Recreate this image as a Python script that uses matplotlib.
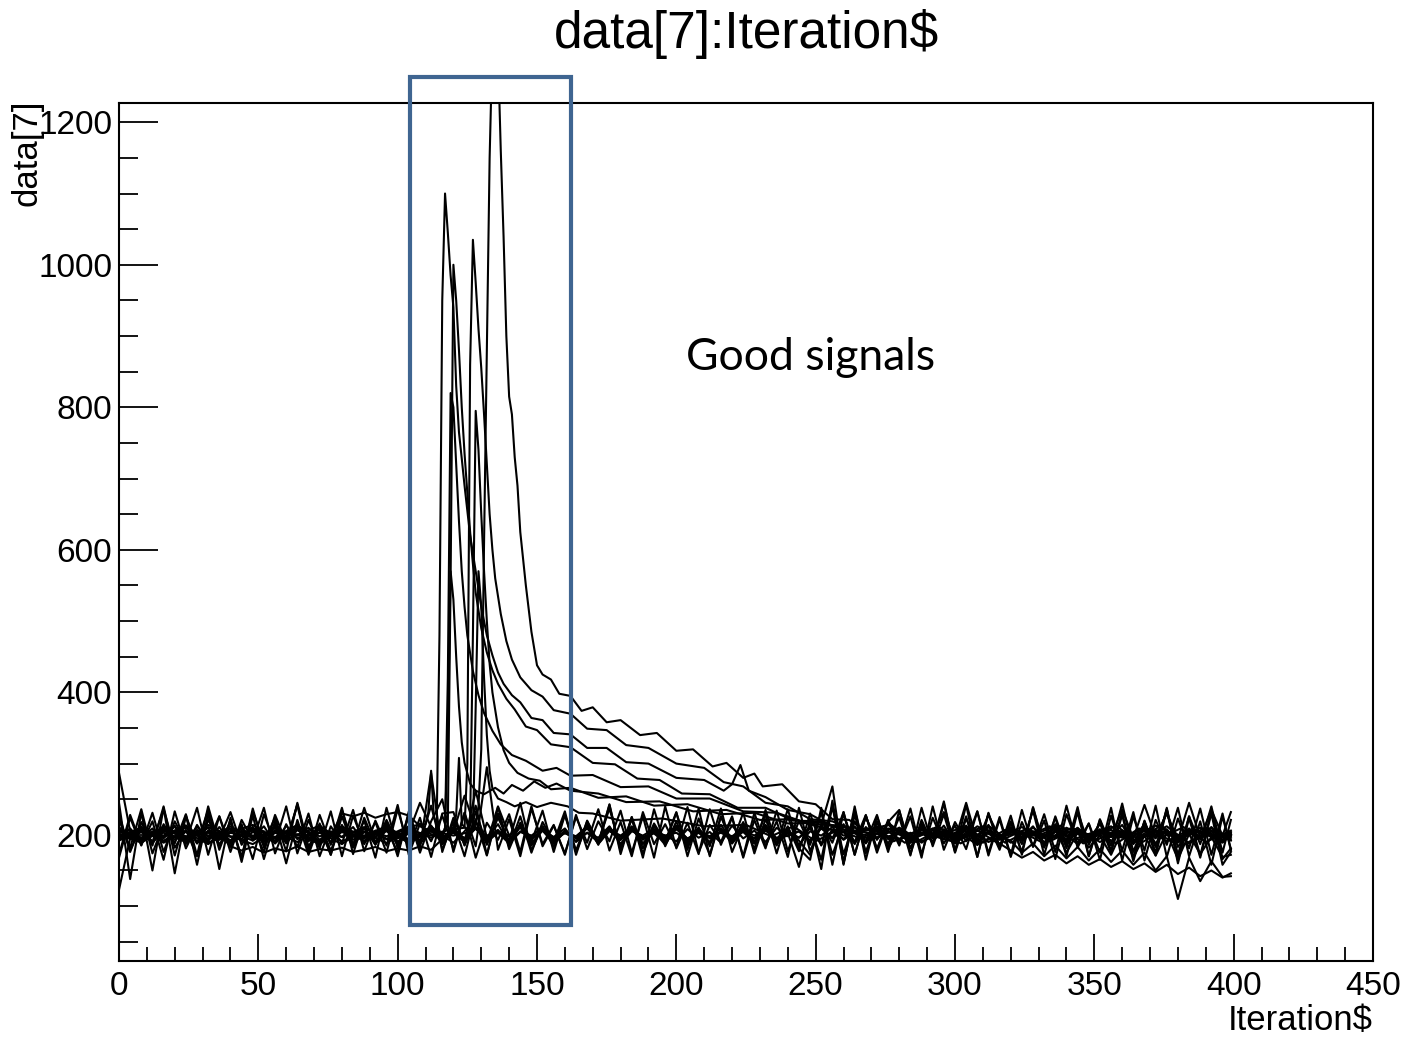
import numpy as np
import matplotlib
matplotlib.use('Agg')
import matplotlib.pyplot as plt
from matplotlib.patches import Rectangle
from matplotlib.ticker import MultipleLocator

plt.rcParams['font.family'] = ['Liberation Sans', 'DejaVu Sans']

# iteration grid for the flat (no signal) waveforms
base_x = list(range(0, 400, 4)) + [399]

base_1 = [225,178,212,190,236,182,207,170,221,195,
          232,186,211,176,228,190,243,181,214,172,
          226,184,238,190,209,175,230,188,241,179,
          218,170,233,186,224,192,245,178,212,183,
          229,176,215,190,237,181,222,174,213,188,
          231,183,210,172,226,189,218,180,235,186,
          212,177,230,185,241,173,219,190,228,176,
          234,181,216,188,247,175,223,186,214,179,
          227,172,239,184,215,190,231,170,222,185,
          244,176,218,183,236,172,226,187,240,175, 221]
base_2 = [172,228,186,219,165,233,181,214,190,226,
          176,221,192,238,174,215,183,230,170,212,
          188,235,177,220,185,242,172,216,191,227,
          180,231,168,217,193,229,176,240,184,213,
          174,225,189,236,178,218,170,232,187,215,
          183,239,175,214,190,226,168,221,181,234,
          177,220,186,231,172,215,190,228,175,219,
          185,237,173,224,188,213,180,233,171,222,
          169,218,184,229,176,241,182,216,165,227,
          178,232,164,221,186,238,170,219,158,226, 180]
base_3 = [245,138,232,150,238,146,228,158,230,152,
          224,162,227,166,219,160,221,172,216,178,
          214,182,210,186,221,189,207,192,212,187,
          206,195,218,190,203,198,211,185,209,196,
          204,191,213,188,207,199,210,193,205,186,
          212,194,203,197,209,188,206,195,214,190,
          205,192,172,214,268,160,240,165,226,180,
          210,191,207,196,213,188,204,199,211,193,
          206,197,212,186,205,194,209,190,203,198,
          214,187,208,195,231,183,206,194,210,192, 199]
base_4 = [287,205,196,209,190,206,193,211,197,202,
          184,178,183,175,181,177,184,176,180,178,
          182,176,179,183,177,181,178,184,179,194,
          205,191,210,196,203,188,212,195,207,190,
          204,198,211,187,206,193,209,197,202,189,
          208,195,203,190,214,192,206,199,210,187,
          203,196,209,188,205,194,212,190,207,198,
          201,189,213,196,204,191,208,197,203,186,
          210,193,205,198,211,189,204,195,208,191,
          203,197,214,188,206,192,209,195,205,190, 201]
base_5 = [198,208,189,203,195,212,187,206,199,204,
          192,210,196,205,189,213,194,201,207,190,
          211,193,204,197,209,186,205,198,213,191,
          207,195,210,189,240,199,212,194,206,188,
          204,196,209,192,211,187,205,199,208,193,
          210,190,206,197,203,195,212,188,207,194,
          199,205,191,209,196,204,188,211,195,206,
          193,203,189,199,194,190,197,186,195,188,
          178,168,176,164,172,160,170,158,166,155,
          163,152,160,148,158,145,154,142,150,140, 146]
base_6 = [211,195,204,190,208,197,213,188,206,193,
          203,199,210,186,207,194,212,191,204,197,
          209,188,205,196,214,190,203,245,211,187,
          206,194,209,192,204,199,213,186,208,195,
          202,197,211,189,206,193,210,196,205,190,
          212,187,207,195,204,198,209,191,206,194,
          203,155,220,152,248,158,235,174,218,183,
          207,190,212,195,203,198,209,187,205,196,
          211,193,204,189,208,175,203,182,199,172,
          206,168,199,171,203,166,201,173,197,169, 172]
base_7 = [123,195,207,188,212,193,205,199,210,186,
          206,194,211,190,203,197,209,192,214,188,
          205,198,210,187,207,195,202,191,212,196,
          204,255,208,199,205,193,211,188,206,197,
          209,190,203,196,212,187,207,194,205,199,
          203,192,210,188,206,197,204,190,213,195,
          207,186,205,199,211,193,204,188,209,196,
          205,197,203,191,208,194,210,189,204,198,
          192,175,188,170,185,167,183,164,180,162,
          178,158,175,150,170,110,168,135,163,141, 142]
base_8 = [196,209,191,205,198,213,189,207,194,211,
          190,206,197,212,188,204,199,210,193,205,
          197,211,189,206,194,203,210,187,208,196,
          203,190,211,195,207,189,204,198,212,191,
          206,195,203,190,209,197,212,188,204,199,
          191,208,196,204,189,213,195,206,190,210,
          198,205,192,211,195,228,187,224,193,217,
          205,190,212,199,232,193,245,190,228,196,
          207,192,211,196,204,198,210,194,215,197,
          236,195,242,197,230,193,245,196,235,199, 232]
base_9 = [229,176,218,185,240,171,226,188,235,179,
          221,167,237,182,216,190,242,174,228,186,
          238,173,224,187,219,170,233,181,287,176,
          224,186,241,172,230,183,226,175,218,190,
          233,172,220,189,242,177,225,168,236,184,
          219,179,237,170,226,188,231,174,222,185,
          236,182,214,165,240,160,228,176,219,187,
          225,171,238,184,229,176,242,169,230,182,
          216,187,234,172,226,181,239,170,221,178,
          231,168,220,175,238,164,226,171,233,166, 181]
base_10 = [202,194,210,189,206,197,213,190,205,199,
           209,191,204,197,212,188,207,195,203,198,
           230,226,231,224,229,232,227,212,205,193,
           211,190,262,196,215,188,205,199,209,192,
           204,197,212,189,206,194,210,187,208,196,
           213,190,205,198,209,193,206,188,211,195,
           205,196,211,186,207,199,204,191,212,194,
           206,189,210,197,203,195,213,190,205,198,
           209,192,204,199,211,186,207,195,203,197,
           205,190,213,196,208,189,206,198,211,193, 197]
base_11 = [168,224,185,231,176,219,190,238,172,226,
           183,215,166,229,188,240,174,221,181,233,
           170,227,187,218,175,236,182,224,169,230,
           232,185,222,171,239,180,217,190,234,176,
           228,178,219,186,243,173,225,181,216,191,
           232,170,223,184,237,176,214,189,229,174,
           226,181,165,238,158,232,172,227,180,218,
           235,173,221,187,244,178,226,169,231,184,
           219,176,238,182,224,170,233,186,217,175,
           228,163,219,171,236,160,224,168,230,158, 176]
base_12 = [221,182,236,174,215,188,229,171,240,185,
           218,169,233,190,224,177,245,183,212,172,
           235,186,220,168,238,181,226,175,219,250,
           176,231,184,295,179,222,170,237,187,214,
           172,228,180,219,191,234,175,226,168,240,
           181,217,173,236,186,224,170,231,184,219,
           169,238,177,215,189,232,172,227,180,221,
           187,226,168,240,179,218,191,233,174,225,
           171,235,183,220,166,229,188,216,175,238,
           164,226,178,241,169,223,181,237,172,230, 178]

# waveforms with a pulse: (iteration, value) points
sig_a = [(0,198),(8,210),(16,189),(24,206),(32,193),(40,212),(48,195),(56,204),(64,190),(72,208),
         (80,197),(88,211),(96,194),(104,206),(112,199),(120,210),(121,228),(122,308),(123,215),(126,203),
         (128,215),(129,240),(130,320),(131,610),(132,880),(133,1150),(134,1310),(135,1340),(136,1300),(137,1160),
         (138,1040),(139,900),(140,815),(141,790),(142,730),(143,690),(144,625),(146,550),(148,485),(150,438),
         (152,425),(155,418),(158,398),(162,395),(166,374),(170,379),(175,358),(180,361),(187,340),(193,343),
         (200,318),(206,320),(213,296),(218,301),(224,280),(228,286),(231,268),(238,271),(244,247),(250,243),
         (256,222),(262,221),(268,206),(276,214),(284,195),(292,209),(300,192),(308,206),(316,197),(324,211),
         (332,190),(340,205),(348,198),(356,212),(364,189),(372,207),(380,195),(388,210),(396,193),(399,204)]
sig_b = [(0,205),(8,191),(16,212),(24,196),(32,203),(40,188),(48,209),(56,197),(64,214),(72,190),
         (80,206),(88,195),(96,211),(104,189),(110,207),(113,198),(114,215),(115,480),(116,950),(117,1100),
         (118,1045),(119,985),(120,940),(121,830),(122,765),(123,728),(124,690),(125,655),(126,620),(128,570),
         (130,520),(132,480),(134,452),(136,428),(138,412),(141,396),(144,386),(148,364),(152,361),(156,343),
         (162,341),(168,322),(175,322),(182,302),(190,300),(200,280),(210,277),(217,262),(220,271),(223,298),
         (226,262),(232,253),(240,235),(248,229),(256,212),(264,210),(272,196),(280,210),(288,191),(296,205),
         (304,198),(312,213),(320,189),(328,204),(336,196),(344,209),(352,190),(360,206),(368,197),(376,212),
         (384,188),(392,205),(399,199)]
sig_c = [(0,194),(8,207),(16,199),(24,213),(32,188),(40,205),(48,192),(56,210),(64,196),(72,203),
         (80,187),(88,209),(96,198),(104,212),(110,215),(111,232),(112,290),(113,225),(116,196),(120,208),
         (124,210),(125,300),(126,860),(127,1035),(128,975),(129,910),(130,855),(131,790),(132,720),(133,650),
         (134,600),(135,560),(137,510),(139,472),(141,446),(144,421),(148,403),(152,394),(156,375),(162,370),
         (168,349),(175,347),(182,326),(190,322),(200,300),(210,294),(217,274),(224,268),(232,245),(240,240),
         (248,222),(256,219),(264,206),(272,201),(280,193),(288,208),(296,195),(304,211),(312,190),(320,204),
         (328,199),(336,213),(344,187),(352,206),(360,196),(368,210),(376,191),(384,207),(392,198),(399,203)]
sig_d = [(0,201),(8,189),(16,208),(24,195),(32,211),(40,198),(48,187),(56,206),(64,200),(72,213),
         (80,191),(88,204),(96,188),(104,209),(112,196),(117,205),(118,215),(119,560),(120,1000),(121,950),
         (122,880),(123,800),(124,735),(125,680),(126,625),(127,580),(128,540),(130,490),(132,456),(134,431),
         (136,412),(139,391),(142,376),(146,352),(150,347),(155,327),(162,323),(170,301),(178,299),(186,279),
         (194,277),(202,258),(212,257),(222,238),(232,238),(242,220),(252,219),(262,205),(270,198),(278,211),
         (286,190),(294,206),(302,197),(310,212),(318,189),(326,205),(334,196),(342,210),(350,191),(358,207),
         (366,195),(374,213),(382,186),(390,203),(399,194)]
sig_e = [(0,196),(8,210),(16,192),(24,204),(32,187),(40,209),(48,199),(56,192),(64,207),(72,188),
         (80,212),(88,197),(96,205),(104,190),(112,208),(116,199),(117,210),(118,420),(119,820),(120,800),
         (121,720),(122,640),(123,570),(124,520),(125,480),(127,430),(129,396),(131,371),(134,346),(137,327),
         (141,312),(146,304),(152,290),(157,294),(162,283),(170,284),(180,267),(190,268),(200,251),(212,251),
         (224,233),(236,231),(248,215),(260,213),(268,196),(276,209),(284,193),(292,206),(300,189),(308,212),
         (316,197),(324,204),(332,188),(340,210),(348,195),(356,207),(364,191),(372,213),(380,198),(388,205),
         (396,189),(399,200)]
sig_f = [(0,209),(8,195),(16,203),(24,190),(32,214),(40,197),(48,206),(56,189),(64,211),(72,198),
         (80,204),(88,192),(96,208),(104,194),(112,210),(120,189),(124,205),(126,215),(127,480),(128,795),
         (129,740),(130,650),(131,570),(132,500),(133,440),(134,400),(136,351),(138,319),(140,301),(143,287),
         (147,279),(151,276),(155,264),(162,266),(172,252),(182,254),(192,241),(204,243),(216,229),(228,231),
         (240,216),(252,217),(262,205),(270,193),(278,207),(286,198),(294,212),(302,188),(310,204),(318,195),
         (326,209),(334,191),(342,206),(350,199),(358,213),(366,187),(374,205),(382,196),(390,210),(399,192)]
sig_g = [(0,192),(8,206),(16,197),(24,210),(32,189),(40,203),(48,214),(56,195),(64,201),(72,187),
         (80,208),(88,199),(96,212),(104,193),(112,205),(116,196),(117,210),(118,350),(119,570),(120,530),
         (121,450),(122,380),(123,330),(124,301),(126,272),(128,262),(131,257),(135,266),(138,258),(141,270),
         (145,262),(149,275),(153,266),(157,272),(162,262),(172,258),(182,246),(194,247),(206,233),(218,235),
         (230,221),(242,222),(254,208),(262,204),(270,209),(278,191),(286,205),(294,197),(302,210),(310,189),
         (318,207),(326,198),(334,212),(342,193),(350,204),(358,188),(366,209),(374,196),(382,211),(390,190),
         (399,206)]
sig_h = [(0,207),(8,193),(16,211),(24,198),(32,204),(40,190),(48,209),(56,196),(64,213),(72,191),
         (80,205),(88,197),(96,210),(104,188),(112,206),(120,199),(126,204),(127,210),(128,380),(129,570),
         (130,520),(131,420),(132,340),(133,290),(134,265),(136,251),(139,246),(142,240),(146,246),(150,239),
         (155,245),(161,240),(165,231),(170,230),(180,220),(195,223),(210,212),(225,214),(234,198),(242,212),
         (250,191),(258,207),(266,195),(274,210),(282,189),(290,204),(298,197),(306,211),(314,192),(322,206),
         (330,199),(338,213),(346,188),(354,205),(362,195),(370,209),(378,190),(386,207),(394,196),(399,201)]

baseline_traces = [base_1, base_2, base_3, base_4, base_5, base_6,
                   base_7, base_8, base_9, base_10, base_11, base_12]
signal_traces = [sig_a, sig_b, sig_c, sig_d, sig_e, sig_f, sig_g, sig_h]

# hand drawn "good signals" box (iteration / data[7] units)
box_x0, box_x1 = 104.4, 162.2
box_y0, box_y1 = 74, 1263

fig = plt.figure(figsize=(14.08, 10.41), dpi=100)
ax = fig.add_axes([119/1408, 1 - 961/1041, (1373 - 119)/1408, (961 - 103)/1041])

for vals in baseline_traces:
    ax.plot(base_x, vals, color='black', lw=1.5)
for pts in signal_traces:
    xs, ys = zip(*pts)
    ax.plot(xs, ys, color='black', lw=1.5)

ax.set_xlim(0, 450)
ax.set_ylim(23, 1227)

ax.xaxis.set_major_locator(MultipleLocator(50))
ax.xaxis.set_minor_locator(MultipleLocator(10))
ax.yaxis.set_major_locator(MultipleLocator(200))
ax.yaxis.set_minor_locator(MultipleLocator(50))
ax.tick_params(axis='both', which='both', direction='in', colors='black', labelsize=24, width=1.3)
ax.tick_params(axis='x', which='major', length=19.5, pad=7)
ax.tick_params(axis='x', which='minor', length=9.8)
ax.tick_params(axis='y', which='major', length=28, pad=5)
ax.tick_params(axis='y', which='minor', length=14)
for s in ax.spines.values():
    s.set_linewidth(1.5)

ax.set_xlabel('Iteration$', fontsize=25, loc='right')
ax.xaxis.set_label_coords(1.0, -0.05)
ax.set_ylabel('data[7]', fontsize=25, loc='top')
ax.yaxis.set_label_coords(-0.06, 1.004)

fig.text(746/1408, 1 - 34/1041, 'data[7]:Iteration$', fontsize=37, ha='center', va='center')

ax.add_patch(Rectangle((box_x0, box_y0), box_x1 - box_x0, box_y1 - box_y0, fill=False,
                       edgecolor='#3F6591', lw=3, clip_on=False, zorder=5))
ax.text(0.452, 0.703, 'Good signals', transform=ax.transAxes, fontsize=32,
        family=['Lato', 'DejaVu Sans'], ha='left', va='center')

fig.savefig('out.png', dpi=100)
